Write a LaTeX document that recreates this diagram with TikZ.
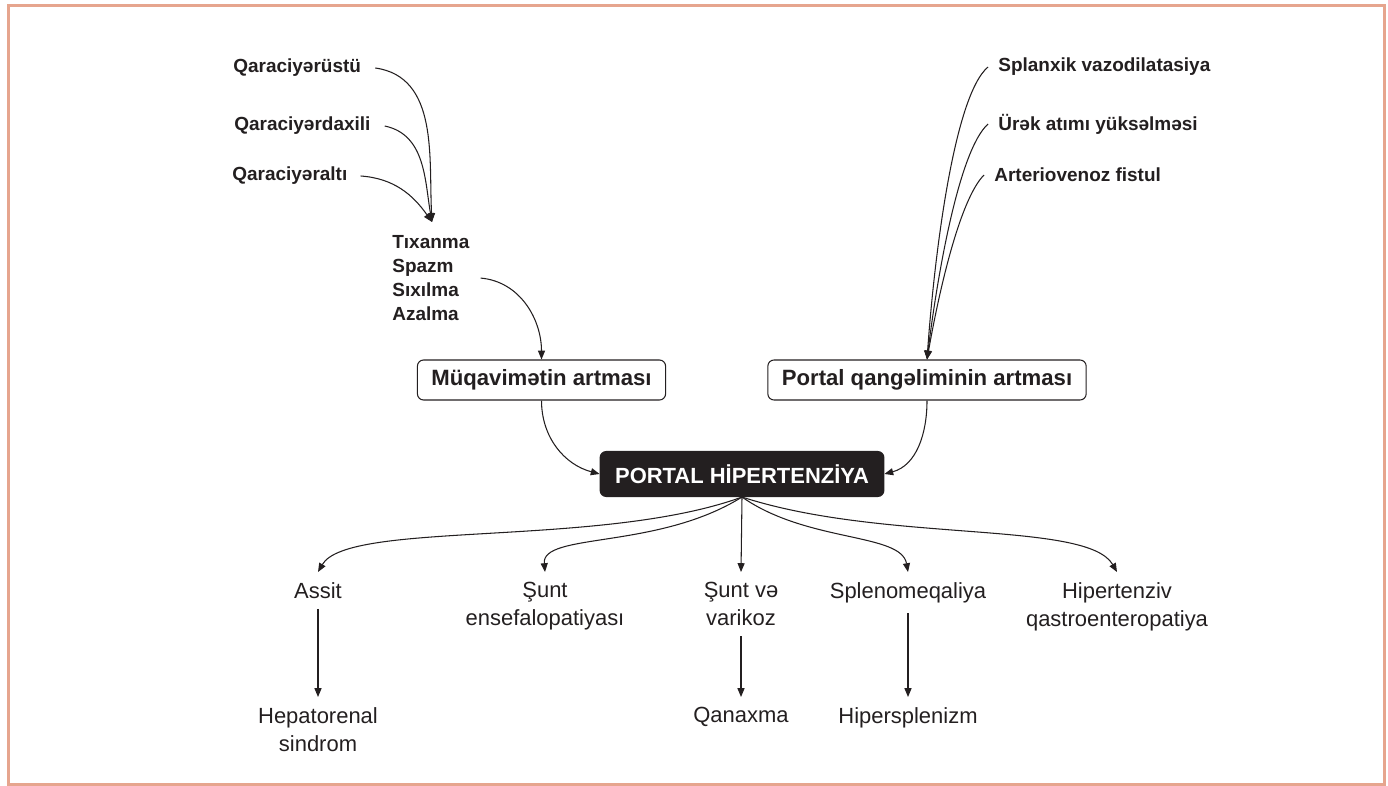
\documentclass[tikz,border=0pt]{standalone}
\usepackage{fontspec}
\setmainfont{Liberation Sans}
\usetikzlibrary{arrows.meta}
\definecolor{framecol}{HTML}{E6A58E}
\definecolor{inkcol}{HTML}{231F20}

\begin{document}
\begin{tikzpicture}[
        x=0.02cm,
        y=0.02cm,
        cause/.style={
            font=\fontsize{10.8}{13.7}\selectfont\bfseries,
            text=inkcol,
            inner sep=0pt,
            anchor=west,
        },
        box/.style={
            rectangle,
            rounded corners=3.5pt,
            draw=inkcol,
            line width=0.6pt,
            minimum height=0.8cm,
            inner xsep=0.28cm,
            text=inkcol,
            font=\fontsize{12.6}{14}\selectfont\bfseries,
        },
        main/.style={
            box,
            fill=inkcol,
            text=white,
            minimum height=0.9cm,
            inner xsep=0.3cm,
            font=\fontsize{12.5}{14}\selectfont\bfseries,
        },
        result/.style={
            align=center,
            anchor=north,
            inner sep=0.2cm,
            text=inkcol,
            font=\fontsize{12.5}{16}\selectfont,
        },
        link/.style={
            -{Triangle[length=5pt,width=4pt]},
            line width=0.6pt,
            draw=inkcol,
        },
    ]
        \useasboundingbox (0,0) rectangle (1388,785);
        \draw[framecol, line width=1.7pt] (8.5,1) rectangle (1384,779.5);

        % causes of resistance
        \node [cause] (qrus) at (233,717) {Qaraciyərüstü};
        \node [cause] (qrdax) at (234,659) {Qaraciyərdaxili};
        \node [cause] (qralt) at (232,609) {Qaraciyəraltı};
        \coordinate (qmerge) at (432,563);
        \node [cause, anchor=north west, align=left] (mech) at (392,550)
            {Tıxanma\\Spazm\\Sıxılma\\Azalma};

        % causes of inflow
        \node [cause] (splanx) at (998,718) {Splanxik vazodilatasiya};
        \node [cause] (urek) at (998,661) {Ürək atımı yüksəlməsi};
        \node [cause] (avfist) at (994,610) {Arteriovenoz fistul};

        \node [box] (muqav) at (541.5,405) {Müqavimətin artması};
        \node [box] (portq) at (927,405) {Portal qangəliminin artması};
        \node [main] (ph) at (742,311) {PORTAL HİPERTENZİYA};

        % consequences
        \node [result] (assit) at (318,213) {Assit};
        \node [result] (sunt) at (545,213) {Şunt\\ensefalopatiyası};
        \node [result] (varik) at (741,213) {Şunt və\\varikoz};
        \node [result] (splen) at (908,213) {Splenomeqaliya};
        \node [result] (hgast) at (1117,213) {Hipertenziv\\qastroenteropatiya};

        \node [result] (hepren) at (318,88) {Hepatorenal\\sindrom};
        \node [result] (qanax) at (741,88) {Qanaxma};
        \node [result] (hspl) at (908,88) {Hipersplenizm};

        \draw [link] ([xshift=0.28cm]qrus.east) to[out=-8, in=93] (qmerge);
        \draw [link] ([xshift=0.28cm]qrdax.east) to[out=-12, in=100] (qmerge);
        \draw [link] ([xshift=0.26cm]qralt.east) to[out=-4, in=125] (qmerge);
        \draw [link] ([xshift=0.22cm]mech.east) to[out=-5, in=90] (muqav.north);

        \draw [link] ([xshift=-0.2cm]splanx.west) to[out=220, in=86, out distance=0.9cm, in distance=2cm] (portq.north);
        \draw [link] ([xshift=-0.2cm]urek.west) to[out=222, in=83, out distance=0.8cm, in distance=1.6cm] (portq.north);
        \draw [link] ([xshift=-0.2cm]avfist.west) to[out=225, in=80, out distance=0.7cm, in distance=1.3cm] (portq.north);

        \draw [link] (muqav.south) to[out=-90, in=165] (ph.west);
        \draw [link] (portq.south) to[out=-90, in=15] (ph.east);

        \draw [link] (ph.south) to[out=200, in=60, out distance=3cm, in distance=1.2cm] (assit.north);
        \draw [link] (ph.south) to[out=212, in=95, out distance=2cm, in distance=0.8cm] (sunt.north);
        \draw [link] (ph.south) -- (varik.north);
        \draw [link] (ph.south) to[out=-35, in=100, out distance=1.6cm, in distance=0.8cm] (splen.north);
        \draw [link] (ph.south) to[out=-18, in=120, out distance=3cm, in distance=1.2cm] (hgast.north);

        \draw [link] (assit) -- (hepren);
        \draw [link] (varik) -- (qanax);
        \draw [link] (splen) -- (hspl);
    \end{tikzpicture}
\end{document}
